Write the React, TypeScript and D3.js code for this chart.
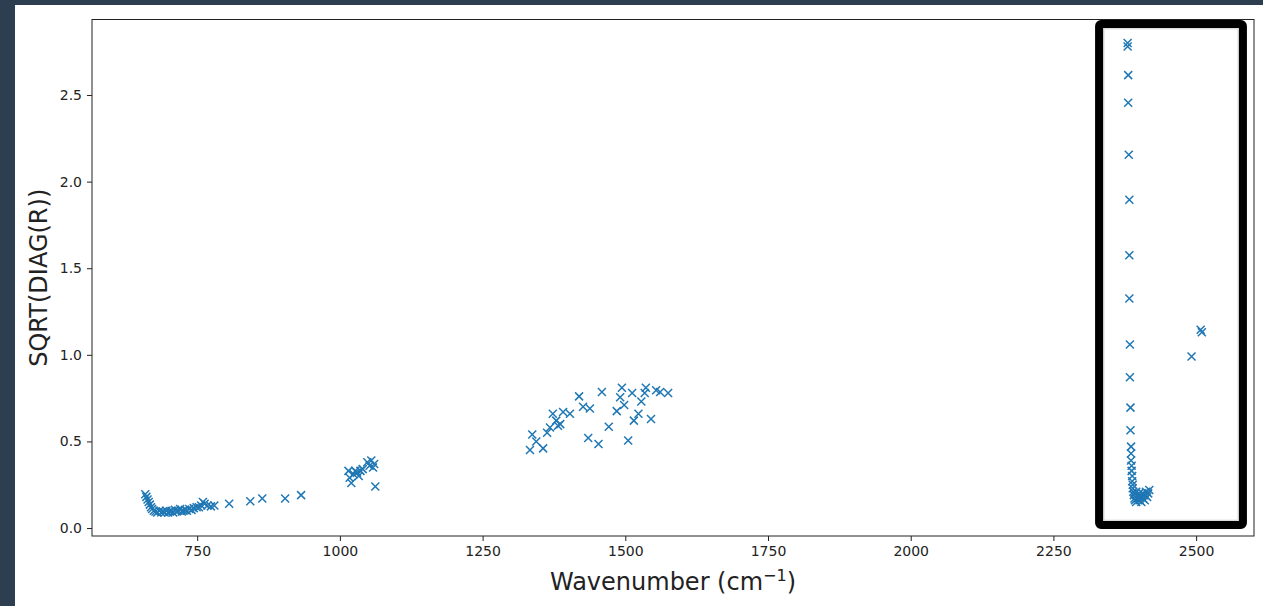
import React, { useEffect, useRef } from 'react';
import * as d3 from 'd3';

// [wavenumber, sqrt(diag(R))]
const lowBand: [number, number][] = [
  [659, 0.195], [661, 0.18], [663, 0.165], [665, 0.15], [667, 0.135], [669, 0.12],
  [671, 0.11], [674, 0.1], [677, 0.095], [680, 0.09], [684, 0.1], [687, 0.09],
  [690, 0.095], [693, 0.09], [696, 0.1], [699, 0.09], [702, 0.095], [705, 0.1],
  [708, 0.09], [711, 0.105], [714, 0.095], [717, 0.1], [720, 0.11], [723, 0.095],
  [726, 0.1], [729, 0.105], [732, 0.1], [736, 0.11], [740, 0.105], [744, 0.115],
  [749, 0.12], [753, 0.12], [757, 0.13], [760, 0.15], [763, 0.14], [768, 0.13],
  [774, 0.125], [780, 0.13], [806, 0.14], [843, 0.155], [864, 0.17], [904, 0.17],
  [932, 0.19],
];

const band1000: [number, number][] = [
  [1015, 0.33], [1017, 0.29], [1020, 0.26], [1024, 0.31], [1027, 0.33], [1030, 0.32],
  [1033, 0.3], [1036, 0.33], [1040, 0.34], [1048, 0.38], [1052, 0.36], [1055, 0.39],
  [1058, 0.35], [1060, 0.37], [1062, 0.24],
];

const band1400: [number, number][] = [
  [1333, 0.45], [1337, 0.54], [1344, 0.5], [1356, 0.46], [1363, 0.55], [1368, 0.58],
  [1373, 0.66], [1379, 0.62], [1382, 0.59], [1386, 0.6], [1391, 0.67], [1403, 0.66],
  [1419, 0.76], [1426, 0.7], [1438, 0.69], [1435, 0.52], [1453, 0.485], [1459, 0.785],
  [1471, 0.585], [1485, 0.675], [1491, 0.755], [1494, 0.81], [1498, 0.71], [1505, 0.505],
  [1512, 0.78], [1515, 0.62], [1523, 0.66], [1528, 0.73], [1534, 0.78], [1536, 0.81],
  [1545, 0.63], [1554, 0.795], [1561, 0.785], [1575, 0.78],
];

const co2Band: [number, number][] = [
  [2380, 2.8], [2380, 2.78], [2381, 2.615], [2381, 2.455], [2382, 2.155], [2383, 1.895],
  [2383, 1.575], [2383, 1.325], [2384, 1.06], [2384, 0.87], [2385, 0.695], [2385, 0.565],
  [2386, 0.47], [2386, 0.43], [2386, 0.39], [2387, 0.36], [2387, 0.33], [2388, 0.3],
  [2388, 0.27], [2389, 0.25], [2389, 0.23], [2390, 0.21], [2391, 0.19], [2392, 0.17],
  [2393, 0.16], [2395, 0.15], [2397, 0.17], [2398, 0.19], [2400, 0.2], [2401, 0.16],
  [2403, 0.18], [2404, 0.15], [2406, 0.2], [2407, 0.17], [2409, 0.19], [2410, 0.16],
  [2412, 0.21], [2414, 0.18], [2416, 0.2], [2418, 0.22], [2395, 0.21], [2392, 0.2],
];

const outliers: [number, number][] = [[2492, 0.99], [2508, 1.145], [2510, 1.13]];

const xTicks = [750, 1000, 1250, 1500, 1750, 2000, 2250, 2500];
const yTicks = [0, 0.5, 1, 1.5, 2, 2.5];

// highlighted region (data units): [x0, x1, y0, y1]
const highlight = [2330, 2582, 0.017, 2.91];

const W = 1263;
const H = 606;
const margin = { left: 92, right: 1254, top: 19.5, bottom: 536 };
const FONT = 'DejaVu Sans, sans-serif';

export default function App() {
  const ref = useRef<SVGSVGElement>(null);

  useEffect(() => {
    const svg = d3.select(ref.current);
    svg.selectAll('*').remove();

    const x = d3.scaleLinear().domain([565.7, 2601.4]).range([margin.left, margin.right]);
    const y = d3.scaleLinear().domain([-0.046, 2.936]).range([margin.bottom, margin.top]);

    svg.append('rect').attr('width', W).attr('height', H).attr('fill', '#2d3e50');
    svg.append('rect').attr('x', 15).attr('y', 5).attr('width', W - 15).attr('height', H - 5)
      .attr('fill', '#fff');

    const all = [...lowBand, ...band1000, ...band1400, ...co2Band, ...outliers];
    svg.append('g')
      .attr('fill', 'none')
      .attr('stroke', '#1f77b4')
      .attr('stroke-width', 1.5)
      .selectAll('path')
      .data(all)
      .join('path')
        .attr('d', 'M-4,-4L4,4M-4,4L4,-4')
        .attr('transform', d => `translate(${x(d[0])},${y(d[1])})`);

    const xAxis = svg.append('g')
      .attr('transform', `translate(0,${margin.bottom})`)
      .call(d3.axisBottom(x).tickValues(xTicks).tickFormat(d3.format('d')).tickSize(5).tickPadding(5).tickSizeOuter(0));
    const yAxis = svg.append('g')
      .attr('transform', `translate(${margin.left},0)`)
      .call(d3.axisLeft(y).tickValues(yTicks).tickFormat(d3.format('.1f')).tickSize(5).tickPadding(5).tickSizeOuter(0));
    [xAxis, yAxis].forEach(g => {
      g.select('.domain').remove();
      g.selectAll('text').attr('font-family', FONT).attr('font-size', 14).attr('fill', '#222');
      g.selectAll('line').attr('stroke', '#222');
    });

    svg.append('rect')
      .attr('x', margin.left).attr('y', margin.top)
      .attr('width', margin.right - margin.left).attr('height', margin.bottom - margin.top)
      .attr('fill', 'none').attr('stroke', '#222').attr('stroke-width', 1);

    // highlight box
    const [hx0, hx1, hy0, hy1] = highlight;
    svg.append('rect')
      .attr('x', x(hx0) + 4).attr('y', y(hy1) + 4)
      .attr('width', x(hx1) - x(hx0) - 8).attr('height', y(hy0) - y(hy1) - 8)
      .attr('fill', 'none').attr('stroke', '#ddd').attr('stroke-width', 3);
    svg.append('rect')
      .attr('x', x(hx0)).attr('y', y(hy1))
      .attr('width', x(hx1) - x(hx0)).attr('height', y(hy0) - y(hy1))
      .attr('rx', 2)
      .attr('fill', 'none').attr('stroke', '#000').attr('stroke-width', 8);

    const xl = svg.append('text')
      .attr('x', (margin.left + margin.right) / 2).attr('y', 590)
      .attr('text-anchor', 'middle')
      .attr('font-family', FONT).attr('font-size', 24).attr('fill', '#222');
    xl.append('tspan').text('Wavenumber (cm');
    xl.append('tspan').attr('dy', -9).attr('font-size', 16).text('\u22121');
    xl.append('tspan').attr('dy', 9).text(')');

    svg.append('text')
      .attr('transform', `translate(47,${(margin.top + margin.bottom) / 2}) rotate(-90)`)
      .attr('text-anchor', 'middle')
      .attr('font-family', FONT).attr('font-size', 24).attr('fill', '#222')
      .text('SQRT(DIAG(R))');
  }, []);

  return (
    <svg ref={ref} width={W} height={H}
      style={{ position: 'absolute', left: 0, top: 0, display: 'block' }} />
  );
}
